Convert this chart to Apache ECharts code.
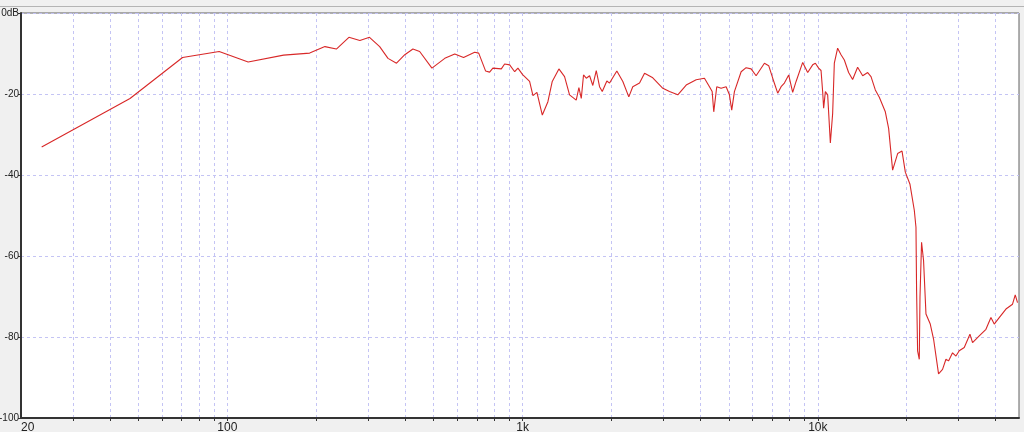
<!DOCTYPE html>
<html>
<head>
<meta charset="utf-8">
<script src="https://cdn.jsdelivr.net/npm/echarts@6/dist/echarts.min.js"></script>
<style>
html,body{margin:0;padding:0;background:#f0f0f0;}
#chart{width:1024px;height:432px;}
</style>
</head>
<body>
<div id="chart"></div>
<script>
// Frequency response data (Hz, dB)
const freqHz = [23.5, 46.8, 70.5, 93.8, 117.6, 155, 190, 214, 234, 258, 281, 303, 328, 350, 374, 399, 425, 448, 493, 545, 589, 631, 688, 710, 749, 773, 793, 847, 869, 904, 940, 964, 1000, 1056, 1084, 1118, 1166, 1218, 1260, 1327, 1387, 1442, 1519, 1551, 1580, 1608, 1643, 1686, 1729, 1776, 1822, 1861, 1929, 1970, 2085, 2185, 2289, 2361, 2489, 2588, 2760, 2985, 3144, 3354, 3581, 3871, 4129, 4294, 4385, 4440, 4499, 4545, 4703, 4890, 5017, 5108, 5216, 5497, 5715, 5942, 6178, 6592, 6815, 7031, 7311, 7507, 7702, 7965, 8217, 8438, 8885, 9237, 9603, 9806, 10062, 10251, 10380, 10461, 10602, 10794, 11023, 11222, 11370, 11667, 11980, 12293, 12710, 13114, 13635, 14185, 14748, 15136, 15653, 16148, 16923, 17365, 17914, 18630, 19277, 19780, 20512, 21213, 21493, 21597, 21767, 22055, 22177, 22451, 22802, 23235, 24026, 24653, 25632, 26443, 27152, 27708, 28588, 29354, 30119, 31320, 32743, 33414, 35203, 37091, 38564, 39572, 41142, 43354, 45636, 46613, 47448];
const levelDb = [-33.1, -21.1, -11.0, -9.5, -12.1, -10.4, -9.9, -8.3, -8.9, -6.0, -6.8, -6.0, -8.3, -11.2, -12.4, -10.3, -8.9, -9.5, -13.6, -11.2, -10.1, -11.0, -9.7, -9.9, -14.3, -14.6, -13.6, -13.8, -12.6, -12.8, -14.5, -13.6, -15.2, -16.9, -20.4, -19.6, -25.2, -21.9, -16.9, -13.8, -15.7, -20.2, -21.5, -18.4, -21.1, -15.3, -16.1, -15.5, -17.9, -14.2, -18.2, -19.4, -16.8, -17.3, -14.3, -16.9, -20.7, -18.2, -17.3, -14.9, -16.0, -18.6, -19.4, -20.2, -17.8, -16.5, -16.1, -18.2, -19.4, -24.4, -24.8, -18.2, -18.6, -18.2, -20.2, -24.0, -19.4, -14.5, -13.5, -13.8, -15.5, -12.4, -13.0, -16.1, -19.8, -18.2, -17.3, -15.3, -19.6, -16.9, -12.2, -14.7, -12.8, -12.4, -13.6, -14.2, -19.4, -23.5, -19.4, -20.2, -32.1, -24.8, -12.4, -8.7, -10.3, -11.6, -14.7, -16.4, -13.4, -15.5, -14.7, -15.7, -19.0, -20.8, -24.4, -28.5, -38.8, -34.7, -34.1, -39.3, -42.3, -48.7, -52.9, -68.6, -83.4, -85.5, -70.2, -56.6, -61.1, -74.3, -76.8, -80.5, -89.1, -88.0, -85.5, -85.9, -83.9, -84.7, -83.4, -82.6, -79.3, -81.4, -79.7, -78.1, -75.2, -76.8, -75.2, -73.1, -71.9, -69.6, -71.5];

// Axis definitions
const freqMin = 20;
const freqMax = 48000;
const gridFreqs = [30, 40, 50, 60, 70, 80, 90, 100, 200, 300, 400, 500, 600, 700, 800, 900, 1000, 2000, 3000, 4000, 5000, 6000, 7000, 8000, 9000, 10000, 20000, 30000, 40000];
const labelFreqs = [20, 100, 1000, 10000];
const labelTexts = ['20', '100', '1k', '10k'];
const dbMin = -100, dbMax = 0, dbStep = 20;

const lg = v => Math.log10(v);
const seriesData = freqHz.map((f, i) => [lg(f), levelDb[i]]);
const labelVals = labelFreqs.map(lg);

const font = '"Liberation Sans Narrow","Liberation Sans",sans-serif';

const chart = echarts.init(document.getElementById('chart'), null, {renderer: 'canvas'});
chart.setOption({
  animation: false,
  backgroundColor: '#f0f0f0',
  graphic: [
    {type: 'rect', left: 0, top: 6, shape: {width: 1024, height: 1}, style: {fill: '#b4b4b4'}, silent: true}
  ],
  grid: {
    left: 21, right: 5, top: 13, bottom: 14,
    containLabel: false, outerBoundsMode: 'none',
    show: true, backgroundColor: '#ffffff', borderColor: '#606060', borderWidth: 1
  },
  xAxis: {
    type: 'value',
    min: lg(freqMin), max: lg(freqMax),
    axisLine: {show: true, onZero: false, lineStyle: {color: '#333', width: 2}},
    axisTick: {show: true, length: 3, customValues: gridFreqs.map(lg), lineStyle: {color: '#333'}},
    axisLabel: {
      customValues: labelVals,
      alignMinLabel: 'left',
      margin: 4,
      fontSize: 12, color: '#222', fontFamily: font,
      formatter: v => {
        let idx = 0, best = Infinity;
        labelVals.forEach((lv, i) => { const d = Math.abs(lv - v); if (d < best) { best = d; idx = i; } });
        return labelTexts[idx];
      }
    },
    splitLine: {show: true, lineStyle: {color: '#c4c4f4', type: [3, 3], width: 1}}
  },
  yAxis: {
    type: 'value',
    min: dbMin, max: dbMax, interval: dbStep,
    axisLine: {show: true, lineStyle: {color: '#333', width: 2}},
    axisTick: {show: true, length: 3, lineStyle: {color: '#333'}},
    axisLabel: {
      margin: 2, fontSize: 10, color: '#222', fontFamily: font,
      formatter: v => v === 0 ? '0dB' : String(v)
    },
    splitLine: {show: true, lineStyle: {color: '#c4c4f4', type: [3, 3], width: 1}}
  },
  series: [{
    type: 'line',
    data: seriesData,
    showSymbol: false,
    symbol: 'none',
    lineStyle: {color: '#d82828', width: 1.1},
    silent: true
  }]
});
</script>
</body>
</html>
